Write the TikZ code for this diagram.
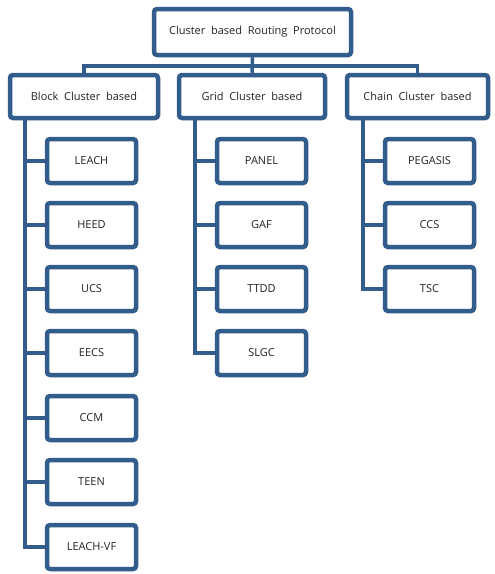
\documentclass[tikz,border=0pt]{standalone}
\usepackage{fontspec}
\setmainfont{Open Sans}
\usetikzlibrary{shadows}

\definecolor{boxblue}{RGB}{50,92,140}
\definecolor{txtgray}{RGB}{35,35,40}

\begin{document}
\begin{tikzpicture}[
  x=1pt, y=-1pt,
  box/.style={draw=boxblue, line width=4.5pt, rounded corners=3pt, fill=white,
    text=txtgray, font=\fontsize{11}{13}\selectfont, inner sep=0pt,
    drop shadow={shadow xshift=1.5pt, shadow yshift=-2pt, opacity=0.25}},
  top/.style={box, minimum width=197pt, minimum height=46pt},
  group/.style={box, minimum height=43pt},
  leaf/.style={box, minimum width=89pt, minimum height=44pt},
  link/.style={draw=boxblue, line width=3.5pt},
]
  \useasboundingbox (0,0) rectangle (495,574);

  % root and the three groups
  \node[top] (root) at (252.5,32) {Cluster\ \ based\ \ Routing\ \ Protocol};
  \node[group, minimum width=148pt] (block) at (84,96.5)  {Block\ \ Cluster\ \ based};
  \node[group, minimum width=146pt] (grid)  at (252,96.5) {Grid\ \ Cluster\ \ based};
  \node[group, minimum width=141pt] (chain) at (417.5,96.5) {Chain\ \ Cluster\ \ based};

  % block cluster based
  \node[leaf] (leach) at (91.5,161) {LEACH};
  \node[leaf] (heed)  at (91.5,225) {HEED};
  \node[leaf] (ucs)   at (91.5,289) {UCS};
  \node[leaf] (eecs)  at (91.5,353) {EECS};
  \node[leaf] (ccm)   at (91.5,418) {CCM};
  \node[leaf] (teen)  at (91.5,482) {TEEN};
  \node[leaf] (vf)    at (91.5,547) {LEACH-VF};

  % grid cluster based
  \node[leaf] (panel) at (261.5,161) {PANEL};
  \node[leaf] (gaf)   at (261.5,225) {GAF};
  \node[leaf] (ttdd)  at (261.5,289) {TTDD};
  \node[leaf] (slgc)  at (261.5,353) {SLGC};

  % chain cluster based
  \node[leaf] (pegasis) at (429.5,161) {PEGASIS};
  \node[leaf] (ccs)     at (429.5,225) {CCS};
  \node[leaf] (tsc)     at (429.5,289) {TSC};

  % bus under the root
  \coordinate (bus) at (252,66);
  \draw[link] (root.south) -- (grid.north);
  \draw[link] (block.north) -- (block.north |- bus) -- (chain.north |- bus) -- (chain.north);

  % spines
  \coordinate (bs) at ([xshift=17pt]block.south west);
  \coordinate (gs) at ([xshift=18pt]grid.south west);
  \coordinate (cs) at ([xshift=18pt]chain.south west);

  \draw[link] (bs) |- (leach.west);
  \draw[link] (bs) |- (heed.west);
  \draw[link] (bs) |- (ucs.west);
  \draw[link] (bs) |- (eecs.west);
  \draw[link] (bs) |- (ccm.west);
  \draw[link] (bs) |- (teen.west);
  \draw[link] (bs) |- (vf.west);

  \draw[link] (gs) |- (panel.west);
  \draw[link] (gs) |- (gaf.west);
  \draw[link] (gs) |- (ttdd.west);
  \draw[link] (gs) |- (slgc.west);

  \draw[link] (cs) |- (pegasis.west);
  \draw[link] (cs) |- (ccs.west);
  \draw[link] (cs) |- (tsc.west);
\end{tikzpicture}
\end{document}
